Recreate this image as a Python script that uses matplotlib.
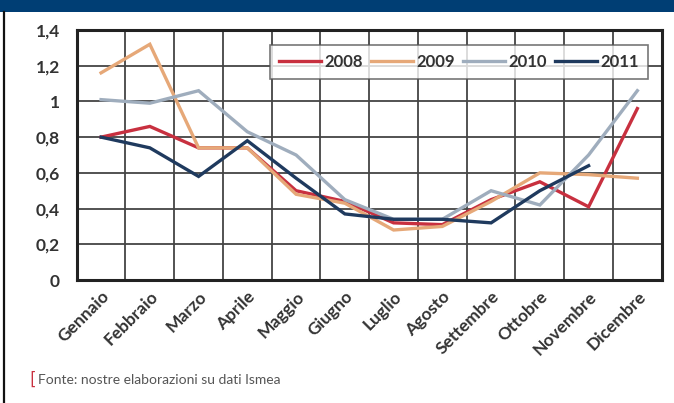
import numpy as np
import matplotlib.pyplot as plt
from matplotlib.patches import Rectangle
from matplotlib.lines import Line2D

mesi = ['Gennaio', 'Febbraio', 'Marzo', 'Aprile', 'Maggio', 'Giugno',
        'Luglio', 'Agosto', 'Settembre', 'Ottobre', 'Novembre', 'Dicembre']
anni = ['2008', '2009', '2010', '2011']
v2008 = [0.80, 0.86, 0.74, 0.74, 0.50, 0.44, 0.32, 0.31, 0.45, 0.55, 0.41, 0.96]
v2009 = [1.16, 1.32, 0.74, 0.74, 0.48, 0.43, 0.28, 0.30, 0.44, 0.60, 0.59, 0.57]
v2010 = [1.01, 0.99, 1.06, 0.83, 0.70, 0.45, 0.34, 0.34, 0.50, 0.42, 0.70, 1.06]
v2011 = [0.80, 0.74, 0.58, 0.78, 0.57, 0.37, 0.34, 0.34, 0.32, 0.50, 0.64]
y_ticks = [0, 0.2, 0.4, 0.6, 0.8, 1.0, 1.2, 1.4]
y_labels = ['0', '0,2', '0,4', '0,6', '0,8', '1', '1,2', '1,4']
fonte = 'Fonte: nostre elaborazioni su dati Ismea'

colori = ['#c8303f', '#e6a878', '#9fadbd', '#1f3a5e']
serie = [v2008, v2009, v2010, v2011]

plt.rcParams['font.family'] = ['Lato', 'DejaVu Sans']

fig = plt.figure(figsize=(6.74, 4.03), dpi=100)
fig.patch.set_facecolor('white')

# banda blu in alto e bordo sinistro
fig.add_artist(Rectangle((0, 1 - 12/403), 1, 12/403, transform=fig.transFigure,
                         color='#003e74', lw=0))
fig.add_artist(Line2D([4/674, 4/674], [0, 1 - 12/403], transform=fig.transFigure,
                      color='#111111', lw=1.6))

ax = fig.add_axes([0.1138, 0.3052, 0.868, 0.6204])
x = np.arange(len(mesi))
for anno, vals, c in zip(anni, serie, colori):
    ax.plot(x[:len(vals)], vals, color=c, lw=2.4, label=anno, solid_joinstyle='miter')

ax.set_xlim(-0.5, 11.5)
ax.set_ylim(0, 1.4)
ax.set_yticks(y_ticks)
ax.set_yticklabels(y_labels, fontweight='bold', fontsize=12.5, color='#333333')
ax.set_xticks(x)
ax.set_xticklabels(mesi, rotation=45, ha='right', rotation_mode='anchor',
                   fontweight='bold', fontsize=12.5, color='#333333')
ax.set_xticks(np.arange(-0.5, 12, 1), minor=True)
ax.tick_params(axis='y', which='both', length=0, pad=12)
ax.tick_params(axis='x', which='both', length=0, pad=6)
ax.grid(True, which='minor', axis='x', color='#444444', lw=1.3)
ax.grid(True, which='major', axis='y', color='#444444', lw=1.3)
ax.set_axisbelow(True)
for s in ax.spines.values():
    s.set_color('#222222')
    s.set_linewidth(2.2)

leg = ax.legend(ncol=4, loc='upper right', bbox_to_anchor=(0.99, 0.975),
                frameon=True, fancybox=False, fontsize=12, handlelength=2.5,
                columnspacing=0.5, handletextpad=0.2, borderpad=0.55)
leg.get_frame().set_edgecolor('#555555')
leg.get_frame().set_linewidth(1.2)
for t in leg.get_texts():
    t.set_fontweight('bold')
    t.set_color('#333333')

fig.text(29/674, 1 - 380/403, '[', color='#c8303f', fontsize=13, va='center', ha='left')
fig.text(38/674, 1 - 380/403, fonte, color='#555555', fontsize=10, va='center', ha='left')

fig.savefig('out.png', dpi=100)
